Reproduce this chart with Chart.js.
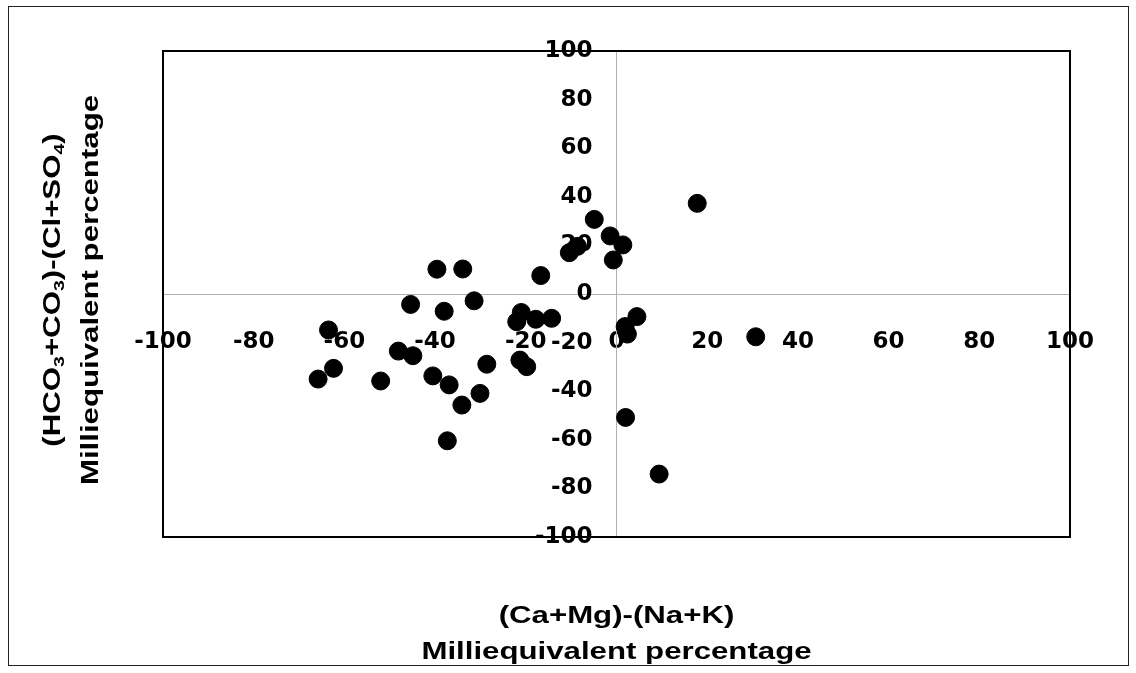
<!DOCTYPE html>
<html>
<head>
<meta charset="utf-8">
<script src="https://cdn.jsdelivr.net/npm/chart.js@4"></script>
<style>
  html, body { margin: 0; padding: 0; background: #fff; }
  #chart { display: block; }
</style>
</head>
<body>
<canvas id="chart" width="1136" height="673"></canvas>
<script>
// (Ca+Mg)-(Na+K) vs (HCO3+CO3)-(Cl+SO4), milliequivalent percentage
const xValues = [-63.5, -62.4, -65.8, -52.0, -48.1, -44.9, -40.5, -36.9, -34.1, -30.1,
  -28.6, -37.3, -45.4, -38.0, -31.4, -39.6, -33.9, -16.7, -21.0, -22.0,
  -17.8, -14.3, -21.3, -19.8, 4.5, 1.9, 2.4, 30.7, 2.0, 9.4,
  -4.9, -1.4, 1.4, -0.7, -10.4, -8.6, 17.8];
const yValues = [-14.8, -30.6, -35.0, -35.8, -23.5, -25.4, -33.7, -37.4, -45.7, -40.9,
  -28.9, -60.4, -4.3, -7.1, -2.8, 10.2, 10.3, 7.6, -7.6, -11.4,
  -10.4, -10.0, -27.2, -29.9, -9.3, -13.4, -16.5, -17.6, -50.8, -74.1,
  30.7, 23.9, 20.2, 14.0, 17.0, 19.6, 37.3];

const xTickValues = [-100, -80, -60, -40, -20, 0, 20, 40, 60, 80, 100];
const yTickValues = [-100, -80, -60, -40, -20, 0, 20, 40, 60, 80, 100];

const xTitleLines = [
  [{ t: '(Ca+Mg)-(Na+K)' }],
  [{ t: 'Milliequivalent percentage' }]
];
const yTitleLines = [
  [{ t: '(HCO' }, { t: '3', sub: true }, { t: '+CO' }, { t: '3', sub: true },
   { t: ')-(Cl+SO' }, { t: '4', sub: true }, { t: ')' }],
  [{ t: 'Milliequivalent percentage' }]
];

const tickFont = { family: 'DejaVu Sans', size: 23, weight: 'bold' };
const titleFamily = '"Liberation Sans", Arial, sans-serif';
const zeroLine = { display: true, color: '#b0b0b0', width: 1, dash: [2, 8] };

// text with subscripts, centred on (0,0) of the current transform
function drawRich(ctx, parts, size, stretch) {
  const subSize = Math.round(size * 0.62);
  const fontFor = p => 'bold ' + (p.sub ? subSize : size) + 'px ' + titleFamily;
  let total = 0;
  parts.forEach(p => { ctx.font = fontFor(p); total += ctx.measureText(p.t).width; });
  ctx.save();
  ctx.scale(stretch, 1);
  ctx.textBaseline = 'middle';
  ctx.textAlign = 'left';
  let x = -total / 2;
  parts.forEach(p => {
    ctx.font = fontFor(p);
    ctx.fillText(p.t, x, p.sub ? size * 0.3 : 0);
    x += ctx.measureText(p.t).width;
  });
  ctx.restore();
}

const framePlugin = {
  id: 'frame',
  beforeDatasetsDraw(chart) {
    const { ctx, chartArea: a } = chart;
    ctx.save();
    ctx.strokeStyle = '#000';
    ctx.lineWidth = 2;
    ctx.strokeRect(a.left, a.top, a.right - a.left, a.bottom - a.top);
    ctx.restore();
  },
  afterDraw(chart) {
    const { ctx, chartArea: a } = chart;
    ctx.save();
    ctx.strokeStyle = '#222';
    ctx.lineWidth = 1;
    ctx.strokeRect(8.5, 6.5, 1120, 659);
    ctx.fillStyle = '#000';

    const cx = (a.left + a.right) / 2;
    ctx.save();
    ctx.translate(cx, 616);
    drawRich(ctx, xTitleLines[0], 24, 1.3);
    ctx.restore();
    ctx.save();
    ctx.translate(cx, 652);
    drawRich(ctx, xTitleLines[1], 24, 1.3);
    ctx.restore();

    ctx.save();
    ctx.translate(53, 290);
    ctx.rotate(-Math.PI / 2);
    drawRich(ctx, yTitleLines[0], 24, 1.3);
    ctx.restore();
    ctx.save();
    ctx.translate(91, 290);
    ctx.rotate(-Math.PI / 2);
    drawRich(ctx, yTitleLines[1], 24, 1.3);
    ctx.restore();
    ctx.restore();
  }
};

const ctx = document.getElementById('chart').getContext('2d');

new Chart(ctx, {
  type: 'scatter',
  data: {
    datasets: [{
      data: xValues.map((x, i) => ({ x, y: yValues[i] })),
      backgroundColor: '#000',
      borderColor: '#000',
      borderWidth: 1,
      pointRadius: 9,
      pointHoverRadius: 9
    }]
  },
  options: {
    responsive: false,
    animation: false,
    layout: { padding: { left: 163, right: 66, top: 51, bottom: 136 } },
    plugins: {
      legend: { display: false },
      tooltip: { enabled: false }
    },
    scales: {
      x: {
        type: 'linear',
        min: -100,
        max: 100,
        position: { y: 0 },
        afterBuildTicks: axis => { axis.ticks = xTickValues.map(v => ({ value: v })); },
        grid: { display: false, drawTicks: false },
        border: zeroLine,
        ticks: { color: '#000', font: tickFont, padding: 34, maxRotation: 0, autoSkip: false }
      },
      // tick labels sit a little left of the zero line
      y: {
        type: 'linear',
        min: -100,
        max: 100,
        position: { x: -5.3 },
        afterBuildTicks: axis => { axis.ticks = yTickValues.map(v => ({ value: v })); },
        grid: { display: false, drawTicks: false },
        border: { display: false },
        ticks: { color: '#000', font: tickFont, autoSkip: false }
      },
      // vertical zero line
      y0: {
        type: 'linear',
        min: -100,
        max: 100,
        position: { x: 0 },
        grid: { display: false, drawTicks: false },
        border: zeroLine,
        ticks: { display: false }
      }
    }
  },
  plugins: [framePlugin]
});
</script>
</body>
</html>
